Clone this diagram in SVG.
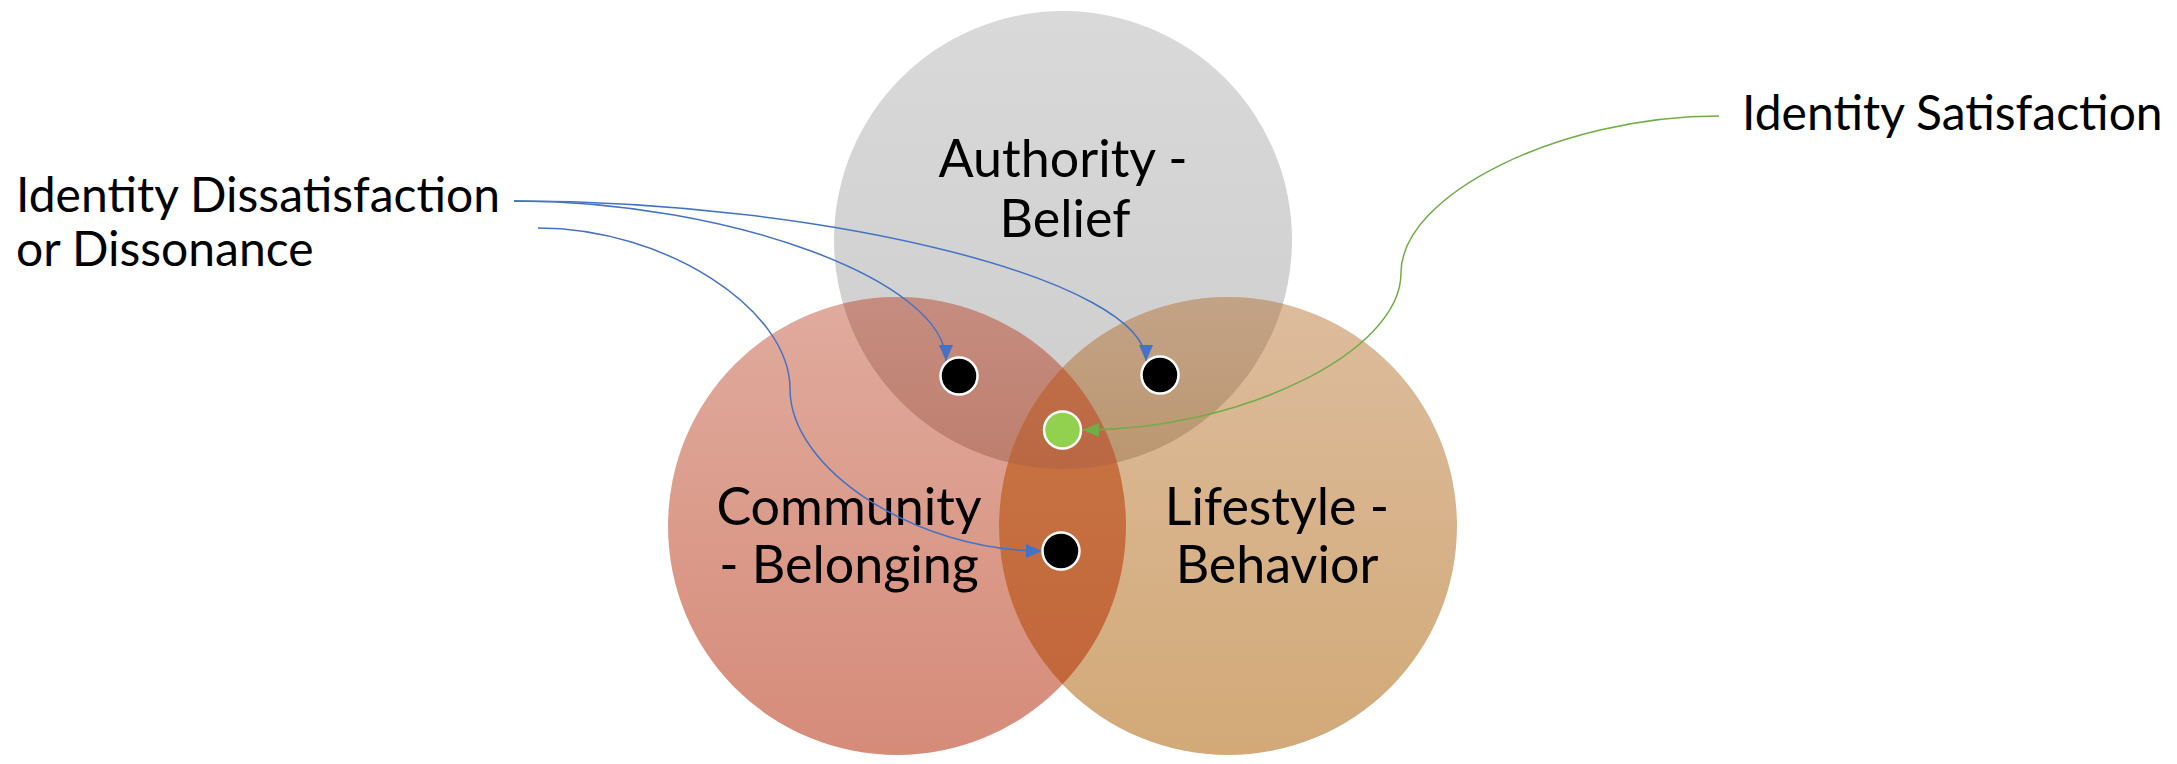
<svg xmlns="http://www.w3.org/2000/svg" width="2177" height="764" viewBox="0 0 2177 764">
<style>
.lbl{font-family:Lato,"Noto Sans","DejaVu Sans",sans-serif;font-size:52px;fill:#000}
.side{font-family:Lato,"Noto Sans","DejaVu Sans",sans-serif;font-size:48px;fill:#000}
.dot{stroke:#fff;stroke-width:2.5}
.blue{fill:none;stroke:#4472C4;stroke-width:1.5}
.green{fill:none;stroke:#70AD47;stroke-width:1.5}
</style>
<defs>
<linearGradient id="gT" gradientUnits="userSpaceOnUse" x1="0" y1="11" x2="0" y2="469"><stop offset="0" stop-color="#d9d9d9"/><stop offset="1" stop-color="#cdcdcd"/></linearGradient>
<linearGradient id="gL" gradientUnits="userSpaceOnUse" x1="0" y1="297" x2="0" y2="755"><stop offset="0" stop-color="#e0ab9d"/><stop offset="1" stop-color="#d68b79"/></linearGradient>
<linearGradient id="gR" gradientUnits="userSpaceOnUse" x1="0" y1="297" x2="0" y2="755"><stop offset="0" stop-color="#ddbc9d"/><stop offset="1" stop-color="#d2a977"/></linearGradient>
<linearGradient id="gTL" gradientUnits="userSpaceOnUse" x1="0" y1="297" x2="0" y2="469"><stop offset="0" stop-color="#c58d80"/><stop offset="1" stop-color="#be7e6e"/></linearGradient>
<linearGradient id="gTR" gradientUnits="userSpaceOnUse" x1="0" y1="297" x2="0" y2="469"><stop offset="0" stop-color="#c3a387"/><stop offset="1" stop-color="#bb966f"/></linearGradient>
<linearGradient id="gLR" gradientUnits="userSpaceOnUse" x1="0" y1="360" x2="0" y2="690"><stop offset="0" stop-color="#c97543"/><stop offset="1" stop-color="#c2673c"/></linearGradient>
<linearGradient id="gTLR" gradientUnits="userSpaceOnUse" x1="0" y1="360" x2="0" y2="469"><stop offset="0" stop-color="#bf6e48"/><stop offset="1" stop-color="#b96843"/></linearGradient>
<clipPath id="cT"><circle cx="1063" cy="240" r="229"/></clipPath>
<clipPath id="cL"><circle cx="897" cy="526" r="229"/></clipPath>
<marker id="aB" markerUnits="userSpaceOnUse" markerWidth="16" markerHeight="14" refX="16" refY="7" orient="auto" viewBox="0 0 16 14"><path d="M0,0 L16,7 L0,14 z" fill="#4472C4"/></marker>
<marker id="aG" markerUnits="userSpaceOnUse" markerWidth="16" markerHeight="14" refX="16" refY="7" orient="auto" viewBox="0 0 16 14"><path d="M0,0 L16,7 L0,14 z" fill="#70AD47"/></marker>
</defs>
<g id="circles">
<g id="authority"><circle cx="1063" cy="240" r="229" fill="url(#gT)"/></g>
<g id="community"><circle cx="897" cy="526" r="229" fill="url(#gL)"/></g>
<g id="lifestyle"><circle cx="1228" cy="526" r="229" fill="url(#gR)"/></g>
<g clip-path="url(#cT)"><circle cx="897" cy="526" r="229" fill="url(#gTL)"/><circle cx="1228" cy="526" r="229" fill="url(#gTR)"/></g>
<g clip-path="url(#cL)"><circle cx="1228" cy="526" r="229" fill="url(#gLR)"/></g>
<g clip-path="url(#cT)"><g clip-path="url(#cL)"><circle cx="1228" cy="526" r="229" fill="url(#gTLR)"/></g></g>
</g>
<g id="labels">
<text class="lbl" text-anchor="middle" x="1063" y="177">Authority -</text>
<text class="lbl" text-anchor="middle" x="1065" y="237">Belief</text>
<text class="lbl" text-anchor="middle" x="849" y="525">Community</text>
<text class="lbl" text-anchor="middle" x="849" y="583">- Belonging</text>
<text class="lbl" text-anchor="middle" x="1277" y="525">Lifestyle -</text>
<text class="lbl" text-anchor="middle" x="1277" y="583">Behavior</text>
</g>
<g id="dissatisfaction"><text class="side" x="16" y="212">Identity Dissatisfaction</text><text class="side" x="16" y="266">or Dissonance</text></g>
<g id="satisfaction"><text class="side" x="1742" y="130">Identity Satisfaction</text></g>
<g id="connectors">
<path class="blue" d="M514,201 C730,201 946,281 946,361" marker-end="url(#aB)"/>
<path class="blue" d="M514,201 C830,201 1146,281 1146,361" marker-end="url(#aB)"/>
<path class="blue" d="M538,228 C664,228 790,308.5 790,389 C790,469.5 916,551 1042,551" marker-end="url(#aB)"/>
<path class="green" d="M1719,116 C1560,116 1401,194.5 1401,273 C1401,351.5 1242,430 1083,430" marker-end="url(#aG)"/>
</g>
<g id="dots">
<g id="dot1"><circle class="dot" cx="959" cy="376" r="18.5" fill="#000"/></g>
<g id="dot2"><circle class="dot" cx="1160" cy="375" r="18.5" fill="#000"/></g>
<g id="dot-green"><circle class="dot" cx="1062.5" cy="430" r="18.5" fill="#92D050"/></g>
<g id="dot3"><circle class="dot" cx="1061" cy="551" r="18.5" fill="#000"/></g>
</g>
</svg>
